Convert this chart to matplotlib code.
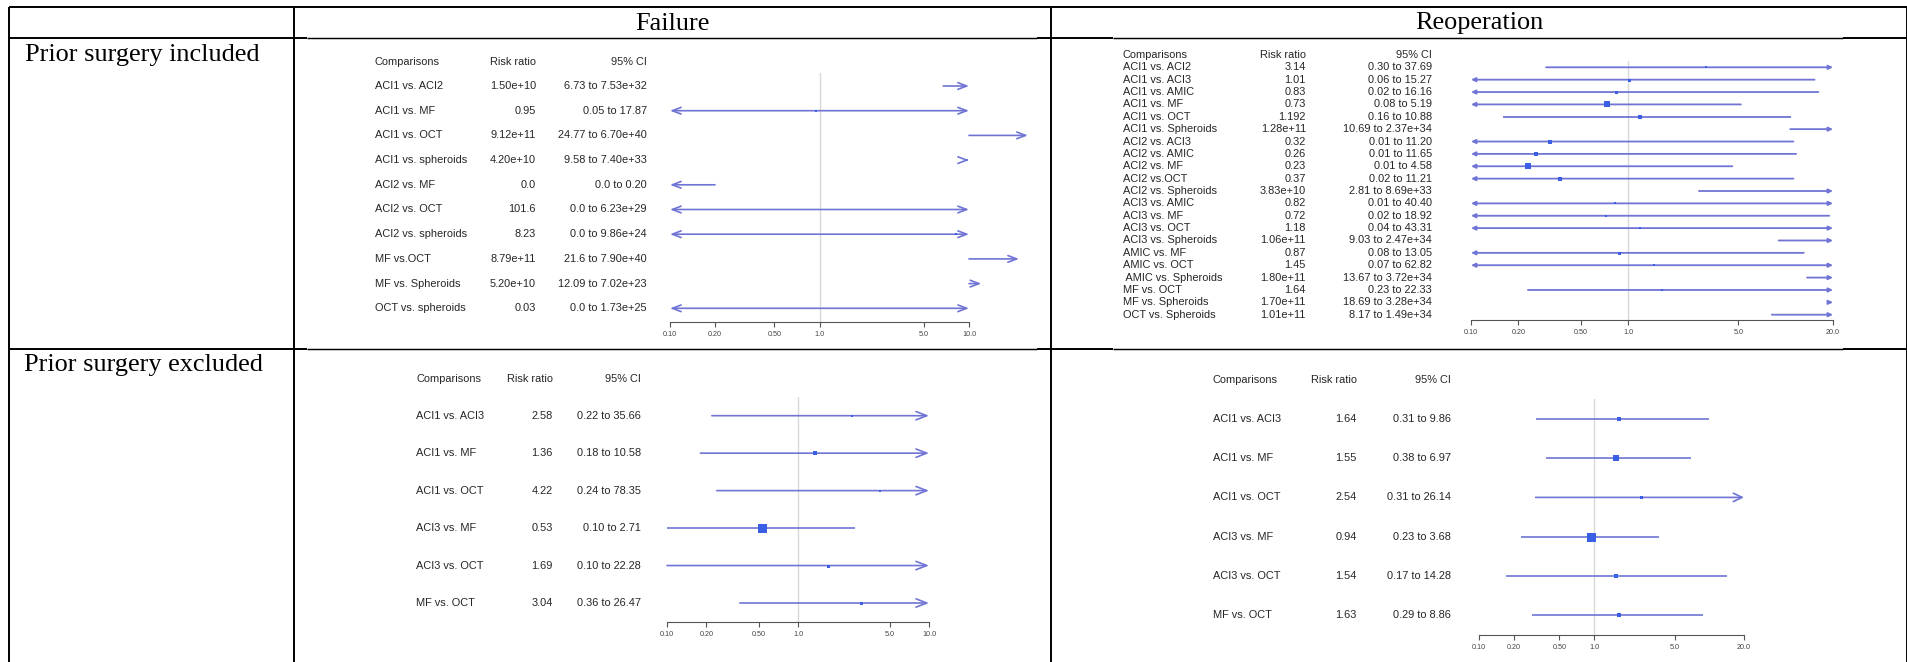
import matplotlib
matplotlib.use("Agg")
import matplotlib.pyplot as plt
from matplotlib.ticker import NullLocator
from matplotlib.transforms import blended_transform_factory

W, H = 1908, 662

# ---------------- data ----------------
col_titles = ["Failure", "Reoperation"]
row_titles = ["Prior surgery included", "Prior surgery excluded"]

fail_inc_cmp = ["ACI1 vs. ACI2", "ACI1 vs. MF", "ACI1 vs. OCT", "ACI1 vs. spheroids",
                "ACI2 vs. MF", "ACI2 vs. OCT", "ACI2 vs. spheroids", "MF vs.OCT",
                "MF vs. Spheroids", "OCT vs. spheroids"]
fail_inc_rr = ["1.50e+10", "0.95", "9.12e+11", "4.20e+10", "0.0", "101.6", "8.23",
               "8.79e+11", "5.20e+10", "0.03"]
fail_inc_ci = ["6.73 to 7.53e+32", "0.05 to 17.87", "24.77 to 6.70e+40", "9.58 to 7.40e+33",
               "0.0 to 0.20", "0.0 to 6.23e+29", "0.0 to 9.86e+24", "21.6 to 7.90e+40",
               "12.09 to 7.02e+23", "0.0 to 1.73e+25"]

reop_inc_cmp = ["ACI1 vs. ACI2", "ACI1 vs. ACI3", "ACI1 vs. AMIC", "ACI1 vs. MF", "ACI1 vs. OCT",
                "ACI1 vs. Spheroids", "ACI2 vs. ACI3", "ACI2 vs. AMIC", "ACI2 vs. MF",
                "ACI2 vs.OCT", "ACI2 vs. Spheroids", "ACI3 vs. AMIC", "ACI3 vs. MF",
                "ACI3 vs. OCT", "ACI3 vs. Spheroids", "AMIC vs. MF", "AMIC vs. OCT",
                " AMIC vs. Spheroids", "MF vs. OCT", "MF vs. Spheroids", "OCT vs. Spheroids"]
reop_inc_rr = ["3.14", "1.01", "0.83", "0.73", "1.192", "1.28e+11", "0.32", "0.26", "0.23",
               "0.37", "3.83e+10", "0.82", "0.72", "1.18", "1.06e+11", "0.87", "1.45",
               "1.80e+11", "1.64", "1.70e+11", "1.01e+11"]
reop_inc_ci = ["0.30 to 37.69", "0.06 to 15.27", "0.02 to 16.16", "0.08 to 5.19", "0.16 to 10.88",
               "10.69 to 2.37e+34", "0.01 to 11.20", "0.01 to 11.65", "0.01 to 4.58",
               "0.02 to 11.21", "2.81 to 8.69e+33", "0.01 to 40.40", "0.02 to 18.92",
               "0.04 to 43.31", "9.03 to 2.47e+34", "0.08 to 13.05", "0.07 to 62.82",
               "13.67 to 3.72e+34", "0.23 to 22.33", "18.69 to 3.28e+34", "8.17 to 1.49e+34"]

fail_exc_cmp = ["ACI1 vs. ACI3", "ACI1 vs. MF", "ACI1 vs. OCT", "ACI3 vs. MF", "ACI3 vs. OCT",
                "MF vs. OCT"]
fail_exc_rr = ["2.58", "1.36", "4.22", "0.53", "1.69", "3.04"]
fail_exc_ci = ["0.22 to 35.66", "0.18 to 10.58", "0.24 to 78.35", "0.10 to 2.71",
               "0.10 to 22.28", "0.36 to 26.47"]

reop_exc_cmp = ["ACI1 vs. ACI3", "ACI1 vs. MF", "ACI1 vs. OCT", "ACI3 vs. MF", "ACI3 vs. OCT",
                "MF vs. OCT"]
reop_exc_rr = ["1.64", "1.55", "2.54", "0.94", "1.54", "1.63"]
reop_exc_ci = ["0.31 to 9.86", "0.38 to 6.97", "0.31 to 26.14", "0.23 to 3.68",
               "0.17 to 14.28", "0.29 to 8.86"]

ticks_10 = [0.1, 0.2, 0.5, 1.0, 5.0, 10.0]
tick_labels_10 = ["0.10", "0.20", "0.50", "1.0", "5.0", "10.0"]
ticks_20 = [0.1, 0.2, 0.5, 1.0, 5.0, 20.0]
tick_labels_20 = ["0.10", "0.20", "0.50", "1.0", "5.0", "20.0"]

# ---------------- style ----------------
SERIF = ["Liberation Serif", "DejaVu Serif"]
SANS = ["Liberation Sans", "DejaVu Sans"]
LINE_C = "#7074d4"
BOX_C = "#3b5fe4"
TXT_C = "#262626"
PX = 72.0 / 100.0  # points per pixel at dpi 100

fig = plt.figure(figsize=(W / 100, H / 100), dpi=100)
bg = fig.add_axes([0, 0, 1, 1])
bg.set_xlim(0, W)
bg.set_ylim(H, 0)
bg.axis("off")

# table grid: heavy rules, a little lighter where the figures sit over the cell borders
heavy, light = 1.4, 1.05
L, R, T = 9, 1907, 7
bg.plot([L, R], [T, T], color="black", lw=heavy, solid_capstyle="butt")
for y in (38, 349):
    for x0, x1, w in ((L, 307, heavy), (307, 1037, light), (1037, 1113, heavy),
                      (1113, 1843, light), (1843, R, heavy)):
        bg.plot([x0, x1], [y, y], color="black", lw=w, solid_capstyle="butt")
for x in (L, 294, 1051, R):
    bg.plot([x, x], [T, H], color="black", lw=heavy, solid_capstyle="butt")

# column and row titles
bg.text((294 + 1051) / 2, 29.5, col_titles[0], family=SERIF, fontsize=18.9,
        ha="center", va="baseline")
bg.text((1051 + 1907) / 2, 29.5, col_titles[1], family=SERIF, fontsize=18.9,
        ha="center", va="baseline")
bg.text(25, 61.5, row_titles[0], family=SERIF, fontsize=18.9, ha="left", va="baseline")
bg.text(24, 371, row_titles[1], family=SERIF, fontsize=18.9, ha="left", va="baseline")


def forest(geo, cmp, rr, ci, box_px, xmax, ticks, tlabels, head):
    n = len(cmp)
    y_first, y_last = geo["y_first"], geo["y_last"]
    y_top, y_axis = geo["y_top"], geo["y_axis"]
    x_lo, x_hi = geo["x_lo"], geo["x_hi"]
    d = (y_last - y_first) / (n - 1)

    ax = fig.add_axes([x_lo / W, 1 - y_axis / H, (x_hi - x_lo) / W, (y_axis - y_top) / H])
    ax.patch.set_alpha(0)
    ax.set_xscale("log")
    xmin = 0.1
    ax.set_xlim(xmin, xmax)
    ax.set_ylim(n - 1 + (y_axis - y_last) / d, -(y_first - y_top) / d)
    for s in ("top", "left", "right"):
        ax.spines[s].set_visible(False)
    ax.spines["bottom"].set_color("#555555")
    ax.spines["bottom"].set_linewidth(0.8)
    ax.set_yticks([])
    ax.set_xticks(ticks)
    ax.set_xticklabels(tlabels)
    ax.xaxis.set_minor_locator(NullLocator())
    ax.tick_params(axis="x", direction="out", length=3.8, width=0.8, color="#555555",
                   labelsize=5.2, labelcolor="#444444", pad=3)
    for lab in ax.get_xticklabels():
        lab.set_family(SANS)
    ax.axvline(1.0, color="#d8d8d8", lw=1.0, zorder=0)

    hl, hw, lwl, filled = head
    style_kw = dict(color=LINE_C, lw=lwl, shrinkA=0, shrinkB=0)

    tr = blended_transform_factory(bg.transData, ax.transData)
    fs = 7.9
    bg.text(geo["x_cmp"], geo["y_head"], "Comparisons", family=SANS, fontsize=fs,
            color=TXT_C, ha="left", va="center")
    bg.text(geo["x_rr"], geo["y_head"], "Risk ratio", family=SANS, fontsize=fs,
            color=TXT_C, ha="right", va="center")
    bg.text(geo["x_ci"], geo["y_head"], "95% CI", family=SANS, fontsize=fs,
            color=TXT_C, ha="right", va="center")

    for i in range(n):
        est = float(rr[i])
        lo, hi = (float(v) for v in ci[i].split(" to "))
        ax.text(geo["x_cmp"], i, cmp[i], transform=tr, family=SANS, fontsize=fs,
                color=TXT_C, ha="left", va="center")
        ax.text(geo["x_rr"], i, rr[i], transform=tr, family=SANS, fontsize=fs,
                color=TXT_C, ha="right", va="center")
        ax.text(geo["x_ci"], i, ci[i], transform=tr, family=SANS, fontsize=fs,
                color=TXT_C, ha="right", va="center")

        if lo >= xmax:
            a, b, left, right = xmax, lo, False, True
        else:
            a, b = max(lo, xmin), min(hi, xmax)
            left, right = lo < xmin, hi > xmax
        lh = "<|" if filled else "<"
        rh = "|>" if filled else ">"
        if left and right:
            arrow = f"{lh}-{rh}"
        elif right:
            arrow = f"-{rh}"
        elif left:
            arrow = f"{lh}-"
        else:
            arrow = None
        if arrow is None:
            ax.plot([a, b], [i, i], color=LINE_C, lw=lwl, solid_capstyle="butt")
        else:
            ax.annotate("", xy=(b, i), xytext=(a, i), annotation_clip=False,
                        arrowprops=dict(arrowstyle=f"{arrow},head_length={hl},head_width={hw}",
                                        **style_kw))
        if xmin <= est <= xmax and box_px[i] > 0:
            ax.plot([est], [i], marker="s", ms=box_px[i] * PX, color=BOX_C, mew=0,
                    zorder=5, clip_on=False)
    return ax


forest(dict(x_cmp=375, x_rr=536, x_ci=647, y_head=61.7, y_first=86, y_last=308.3,
            y_top=73, y_axis=321.7, x_lo=670, x_hi=969),
       fail_inc_cmp, fail_inc_rr, fail_inc_ci,
       [2.5] * 10, 10.0, ticks_10, tick_labels_10, (0.63, 0.24, 1.2, False))

forest(dict(x_cmp=1123, x_rr=1306, x_ci=1432, y_head=55, y_first=67.3, y_last=314.7,
            y_top=60.7, y_axis=320, x_lo=1471, x_hi=1833),
       reop_inc_cmp, reop_inc_rr, reop_inc_ci,
       [2.2, 3, 3, 6, 4, 0, 3.5, 3.5, 6, 3.5, 0, 2, 2.5, 2, 0, 3, 2, 0, 2.5, 0, 0],
       20.0, ticks_20, tick_labels_20, (0.25, 0.12, 1.3, True))

forest(dict(x_cmp=416.5, x_rr=553, x_ci=641, y_head=379, y_first=415.7, y_last=603,
            y_top=396.7, y_axis=621.7, x_lo=667, x_hi=929),
       fail_exc_cmp, fail_exc_rr, fail_exc_ci,
       [2.5, 3.5, 2, 9, 3, 3], 10.0, ticks_10, tick_labels_10, (0.77, 0.3, 1.2, False))

forest(dict(x_cmp=1213, x_rr=1357, x_ci=1450.6, y_head=380, y_first=419, y_last=615,
            y_top=399, y_axis=635, x_lo=1479, x_hi=1744),
       reop_exc_cmp, reop_exc_rr, reop_exc_ci,
       [4.5, 5.5, 3, 9, 4, 4.5], 20.0, ticks_20, tick_labels_20, (0.63, 0.3, 1.2, False))

fig.savefig("out.png", dpi=100, facecolor="white")
